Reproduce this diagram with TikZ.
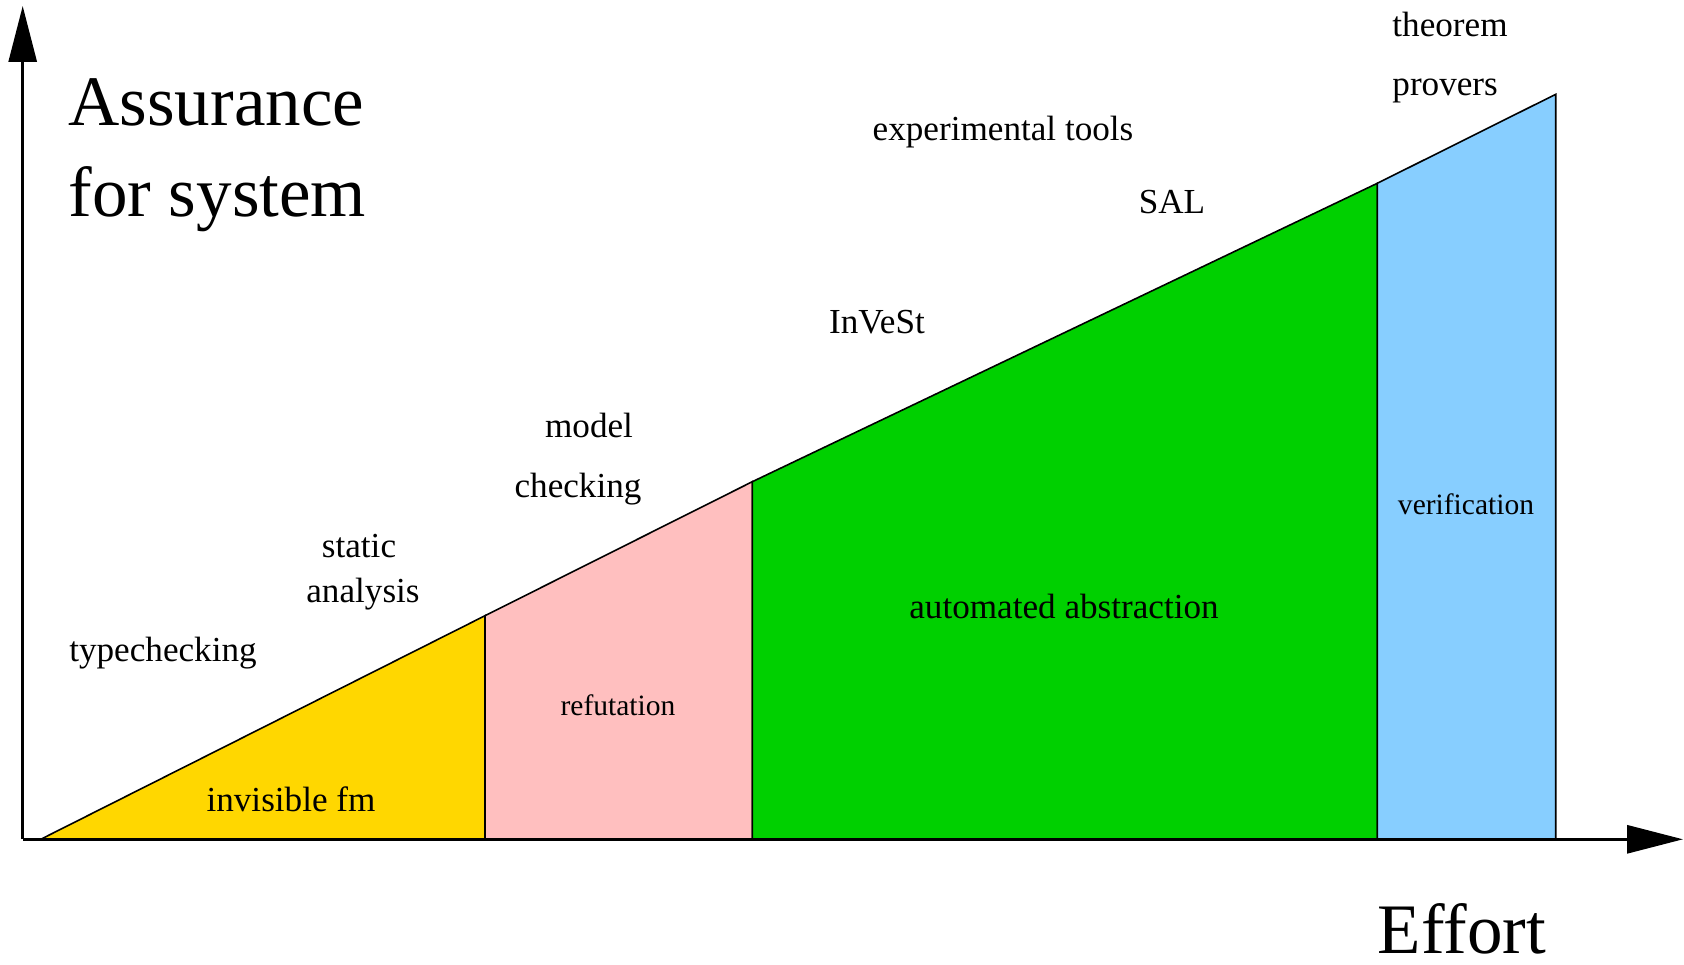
\documentclass[tikz,border=0pt]{standalone}
\usepackage{fontspec}
\setmainfont{Liberation Serif}
\usetikzlibrary{arrows.meta}
\definecolor{gold}{RGB}{255,215,0}
\definecolor{pinkish}{RGB}{255,191,191}
\definecolor{grn}{RGB}{0,208,0}
\definecolor{ltblue}{RGB}{135,206,255}
\begin{document}
\begin{tikzpicture}[
    axis/.style={line width=0.85pt, -{Triangle[length=5.6mm,width=2.8mm]}},
    band/.style={draw=black, line width=0.45pt},
    lbl/.style={font=\fontsize{10}{12}\selectfont},
    smalllbl/.style={font=\fontsize{8.4}{10}\selectfont},
    biglbl/.style={font=\fontsize{20.2}{24}\selectfont, anchor=west}]
  \useasboundingbox (0,0) rectangle (16.84,9.64);
  % corners of the effort line
  \coordinate (o) at (0.227,1.247);
  \coordinate (s) at (0.407,1.247);
  \coordinate (a) at (4.85,3.483);
  \coordinate (b) at (7.523,4.823);
  \coordinate (c) at (13.773,7.807);
  \coordinate (d) at (15.557,8.697);
  \coordinate (a0) at (4.85,1.247);
  \coordinate (b0) at (7.523,1.247);
  \coordinate (c0) at (13.773,1.247);
  \coordinate (d0) at (15.557,1.247);
  \coordinate (ytip) at (0.227,9.58);
  \coordinate (xtip) at (16.83,1.247);
  \begin{scope}[band]
    \draw[fill=gold] (s) -- (a) -- (a0) -- cycle;
    \draw[fill=pinkish] (a0) -- (a) -- (b) -- (b0) -- cycle;
    \draw[fill=grn] (b0) -- (b) -- (c) -- (c0) -- cycle;
    \draw[fill=ltblue] (c0) -- (c) -- (d) -- (d0) -- cycle;
  \end{scope}
  \draw[axis] (o) -- (ytip);
  \draw[axis] (o) -- (xtip);
  % labels
  \node[biglbl] (assur) at (0.56,8.62) {Assurance};
  \node[biglbl] (forsys) at (0.56,7.65) {for system};
  \node[biglbl, anchor=center, inner sep=0pt] (effort) at (14.62,0.35) {Effort};
  \node[lbl] (typecheck) at (1.63,3.11) {typechecking};
  \node[lbl] (static) at (3.59,4.18) {static};
  \node[lbl] (analysis) at (3.63,3.70) {analysis};
  \node[lbl] (model) at (5.89,5.39) {model};
  \node[lbl] (checking) at (5.78,4.745) {checking};
  \node[lbl] (invest) at (8.77,6.42) {InVeSt};
  \node[lbl] (exptools) at (10.03,8.32) {experimental tools};
  \node[lbl] (sal) at (11.72,7.62) {SAL};
  \node[lbl, anchor=west] (theorem) at (13.80,9.40) {theorem};
  \node[lbl, anchor=west] (provers) at (13.80,8.73) {provers};
  \node[smalllbl] (refut) at (6.18,2.59) {refutation};
  \node[smalllbl] (verif) at (14.66,4.60) {verification};
  \node[lbl] (autoabs) at (10.64,3.58) {automated abstraction};
  \node[lbl] (invisible) at (2.91,1.65) {invisible fm};
\end{tikzpicture}
\end{document}
